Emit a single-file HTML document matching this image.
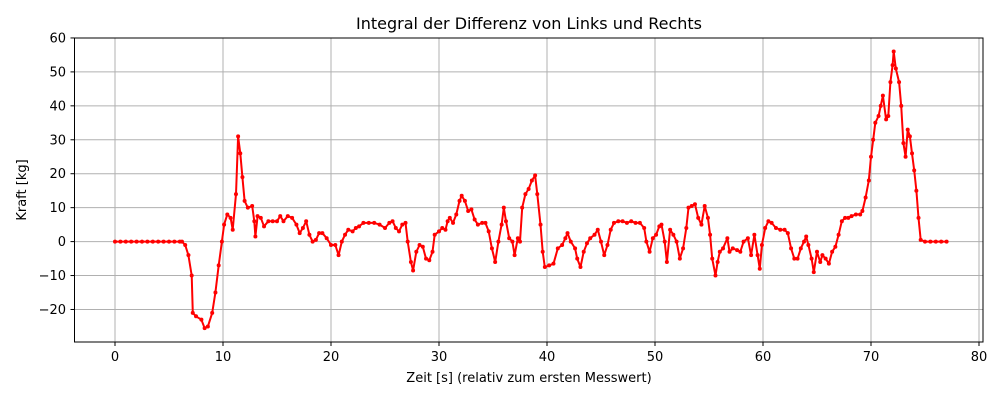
<!DOCTYPE html>
<html><head><meta charset="utf-8"><style>
body{margin:0;background:#fff;}
svg text{font-family:"DejaVu Sans","Liberation Sans",sans-serif;fill:#000;}
</style></head><body>
<svg id="chart" width="1000" height="400" xmlns="http://www.w3.org/2000/svg">
<text x="529" y="29" font-size="16" text-anchor="middle">Integral der Differenz von Links und Rechts</text>
<g id="grid"></g>
<g id="series"></g>
<rect x="74.5" y="38" width="908.5" height="304" fill="none" stroke="#000" stroke-width="1"/>
<g id="ticks"></g>
<text x="529" y="382" font-size="13" text-anchor="middle">Zeit [s] (relativ zum ersten Messwert)</text>
<text x="0" y="0" font-size="13" text-anchor="middle" transform="translate(26,190) rotate(-90)">Kraft [kg]</text>
</svg>
<script>
const xTicks=[0,10,20,30,40,50,60,70,80];
const yTicks=[-20,-10,0,10,20,30,40,50,60];
const yTickLabels=["\u221220","\u221210","0","10","20","30","40","50","60"];
const times=[0,0.5,1,1.5,2,2.5,3,3.5,4,4.5,5,5.5,6,6.2,6.5,6.8,7.1,7.2,7.5,8,8.3,8.6,9,9.3,9.6,9.9,10.1,10.4,10.7,10.9,11.2,11.4,11.6,11.8,12,12.3,12.7,12.9,13,13.2,13.5,13.8,14.2,14.6,15,15.3,15.6,16,16.4,16.8,17.1,17.4,17.7,18,18.3,18.6,18.9,19.2,19.6,20,20.4,20.7,21,21.3,21.6,22,22.3,22.6,23,23.5,24,24.5,25,25.4,25.7,26,26.3,26.6,26.9,27.1,27.4,27.6,27.9,28.2,28.5,28.8,29.1,29.4,29.6,30,30.3,30.6,30.8,31,31.3,31.6,31.9,32.1,32.4,32.7,33,33.3,33.6,34,34.3,34.6,34.9,35.2,35.5,35.8,36,36.2,36.5,36.8,37,37.3,37.5,37.7,38,38.3,38.6,38.9,39.1,39.4,39.6,39.8,40.2,40.6,41,41.4,41.7,41.9,42.2,42.6,42.8,43.1,43.4,43.7,44,44.4,44.7,45,45.3,45.6,45.9,46.2,46.6,47,47.4,47.8,48.2,48.6,49,49.2,49.5,49.8,50.1,50.4,50.6,50.9,51.1,51.4,51.7,52,52.3,52.6,52.9,53.1,53.4,53.7,54,54.3,54.6,54.9,55.1,55.3,55.6,55.8,56,56.3,56.7,56.9,57.2,57.6,57.9,58.2,58.6,58.9,59.2,59.5,59.7,59.9,60.2,60.5,60.8,61.2,61.6,62,62.3,62.6,62.9,63.2,63.5,63.8,64,64.2,64.5,64.7,65,65.3,65.5,65.8,66.1,66.4,66.7,67,67.3,67.6,67.9,68.2,68.6,69,69.2,69.5,69.8,70,70.2,70.4,70.7,70.9,71.1,71.4,71.6,71.8,72,72.1,72.3,72.6,72.8,73,73.2,73.4,73.6,73.8,74,74.2,74.4,74.6,75,75.5,76,76.5,77];
const forces=[0,0,0,0,0,0,0,0,0,0,0,0,0,0,-1,-4,-10,-21,-22,-23,-25.5,-25,-21,-15,-7,0,5,8,7,3.5,14,31,26,19,12,10,10.5,6,1.5,7.5,7,4.5,6,6,6,7.5,6,7.5,7,5,2.5,4,6,2,0,0.5,2.5,2.5,1,-1,-1,-4,0,2,3.5,3,4,4.5,5.5,5.5,5.5,5,4,5.5,6,4,3,5,5.5,0,-6,-8.5,-3,-1,-1.5,-5,-5.5,-3,2,3,4,3.5,6,7,5.5,8,12,13.5,12,9,9.5,6.5,5,5.5,5.5,3,-2,-6,0,5,10,6,1,0,-4,1,0,10,14,15.5,18,19.5,14,5,-3,-7.5,-7,-6.5,-2,-1,1,2.5,0,-2,-5,-7.5,-3,-0.5,1,2,3.5,0,-4,-1,3.5,5.5,6,6,5.5,6,5.5,5.5,4,0,-3,1,2,4.5,5,0,-6,3.5,2,0,-5,-2,4,10,10.5,11,7,5,10.5,7,2,-5,-10,-6,-3,-2,1,-3,-2,-2.5,-3,0,1,-4,2,-4,-8,-1,4,6,5.5,4,3.5,3.5,2.5,-2,-5,-5,-2,0,1.5,-1,-5,-9,-3,-6,-4,-5,-6.5,-3,-1.5,2,6,7,7,7.5,8,8,9,13,18,25,30,35,37,40,43,36,37,47,52,56,51,47,40,29,25,33,31,26,21,15,7,0.5,0,0,0,0,0];
const X0=115,XS=10.8,Y0=241.6,YS=3.394;
const xs=t=>X0+t*XS, ys=v=>Y0-v*YS;
const NS="http://www.w3.org/2000/svg";
const grid=document.getElementById('grid'),ticks=document.getElementById('ticks'),ser=document.getElementById('series');
function mk(tag,attrs,parent){const e=document.createElementNS(NS,tag);for(const k in attrs)e.setAttribute(k,attrs[k]);parent.appendChild(e);return e;}
xTicks.forEach(t=>{const x=xs(t);
 const g=mk('line',{x1:x,x2:x,y1:38,y2:342,stroke:'#b0b0b0','stroke-width':1},grid);
 
 
 const tk=mk('line',{x1:x,x2:x,y1:342,y2:346,stroke:'#000'},ticks);
 
 
 const l=mk('text',{x:x,y:361,'font-size':13,'text-anchor':'middle'},ticks);l.textContent=t;
 
 
});
yTicks.forEach((v,i)=>{const y=ys(v);
 const g=mk('line',{x1:74.5,x2:983,y1:y,y2:y,stroke:'#b0b0b0','stroke-width':1},grid);
 
 
 const tk=mk('line',{x1:70.5,x2:74.5,y1:y,y2:y,stroke:'#000'},ticks);
 
 
 const l=mk('text',{x:66,y:y+4.5,'font-size':13,'text-anchor':'end'},ticks);l.textContent=yTickLabels[i];
 
 
});
const pts=times.map((t,i)=>xs(t).toFixed(1)+','+ys(forces[i]).toFixed(1)).join(' ');
const pl=mk('polyline',{points:pts,fill:'none',stroke:'#ff0000','stroke-width':2,'stroke-linejoin':'round'},ser);


times.forEach((t,i)=>{const c=mk('circle',{cx:xs(t),cy:ys(forces[i]),r:2,fill:'#ff0000'},ser);
 
 
});
</script>
</body></html>
